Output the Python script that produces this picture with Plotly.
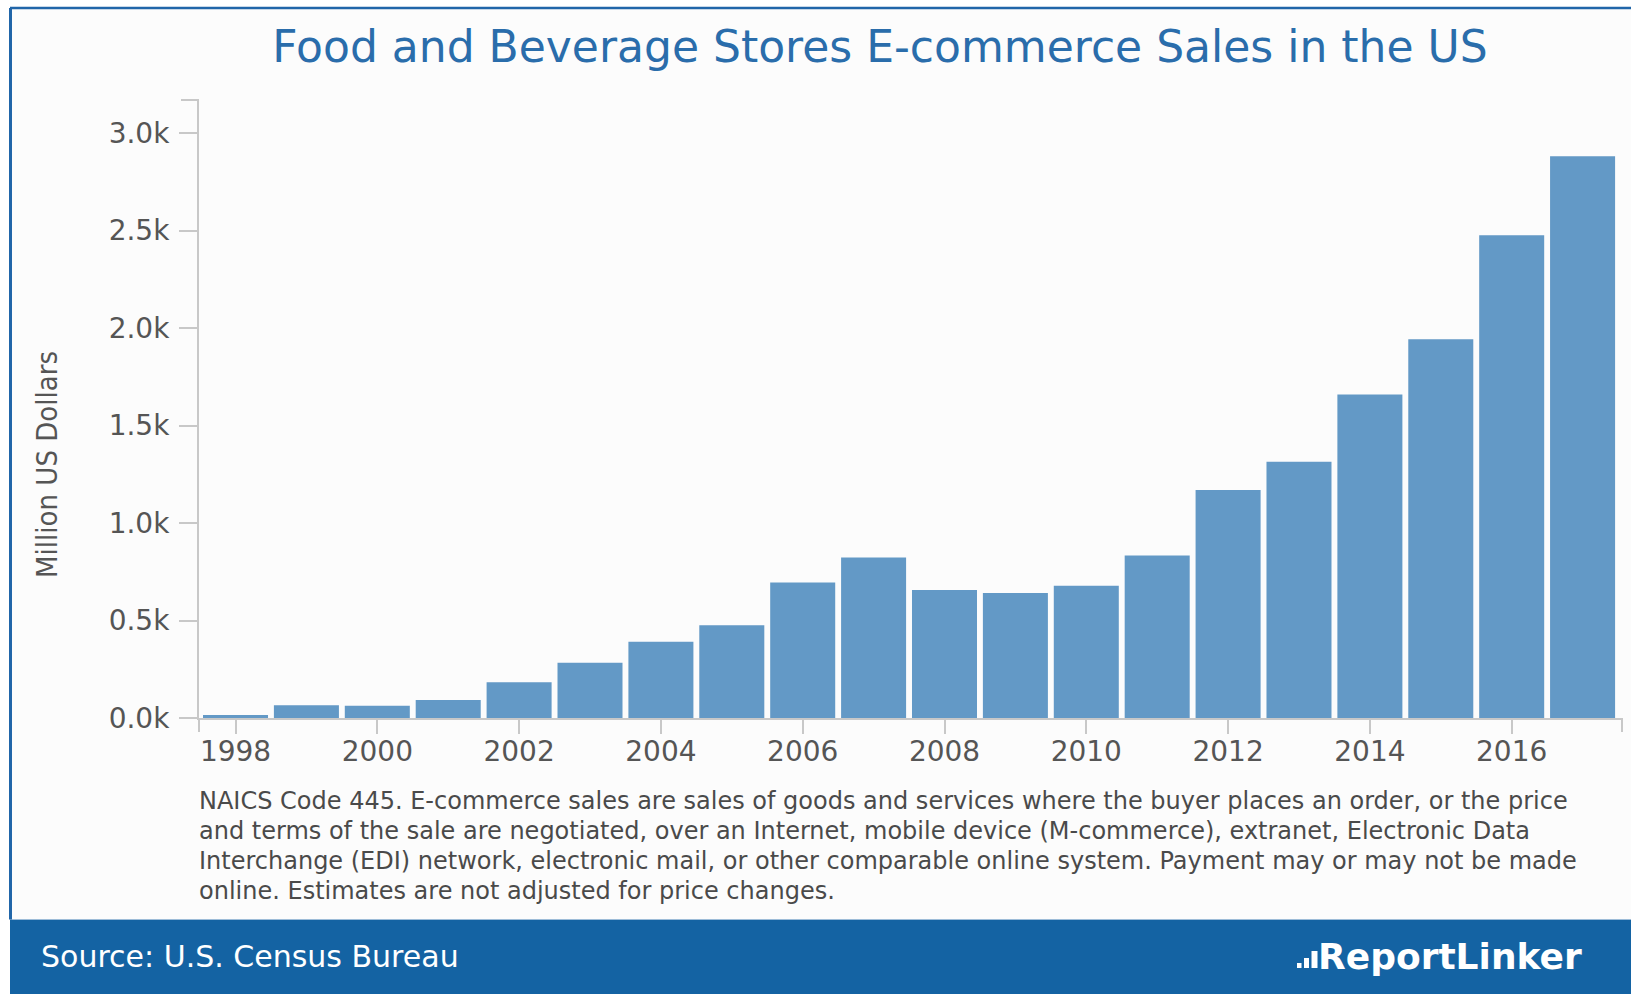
import plotly.graph_objects as go

# Food & beverage stores e-commerce sales, million US dollars
years = list(range(1998, 2018))
sales = [15, 65, 63, 92, 183, 284, 391, 476, 695, 823,
         657, 641, 679, 833, 1170, 1314, 1660, 1943, 2476, 2882]

y_tick_values = [0, 500, 1000, 1500, 2000, 2500, 3000]
y_tick_labels = ["0.0k", "0.5k", "1.0k", "1.5k", "2.0k", "2.5k", "3.0k"]
x_tick_values = [1998, 2000, 2002, 2004, 2006, 2008, 2010, 2012, 2014, 2016]

title_text = "Food and Beverage Stores E-commerce Sales in the US"
y_title = "Million US Dollars"
note_lines = [
    "NAICS Code 445. E-commerce sales are sales of goods and services where the buyer places an order, or the price",
    "and terms of the sale are negotiated, over an Internet, mobile device (M-commerce), extranet, Electronic Data",
    "Interchange (EDI) network, electronic mail, or other comparable online system. Payment may or may not be made",
    "online. Estimates are not adjusted for price changes.",
]
source_text = "Source: U.S. Census Bureau"
brand_text = "ReportLinker"

# Page geometry (pixels)
W, H = 1631, 994
L, R, T, B = 199, 9, 100, 276
PW, PH = W - L - R, H - T - B

BLUE = "#1463a3"
BAR = "#6399c6"
AXIS = "#c8c8c8"
TICK_TXT = "#555555"
FONT = "DejaVu Sans"


def px(x):
    return (x - L) / PW


def py(y):
    return (H - B - y) / PH


fig = go.Figure(
    go.Bar(
        x=years,
        y=sales,
        marker=dict(color=BAR, line=dict(width=0)),
        hovertemplate="%{x}: %{y}<extra></extra>",
    )
)

shapes = [
    # panel background
    dict(type="rect", xref="paper", yref="paper", x0=px(10), x1=px(W), y0=py(919), y1=py(8),
         fillcolor="#fcfcfc", line=dict(width=0), layer="below"),
    # footer band
    dict(type="rect", xref="paper", yref="paper", x0=px(10), x1=px(W), y0=py(H), y1=py(919.5),
         fillcolor=BLUE, line=dict(width=0), layer="below"),
    dict(type="line", xref="paper", yref="paper", x0=px(10), x1=px(W), y0=py(919.5), y1=py(919.5),
         line=dict(color="#9dbcd8", width=1), layer="below"),
    # panel border (top, left)
    dict(type="line", xref="paper", yref="paper", x0=px(10), x1=px(W), y0=py(8), y1=py(8),
         line=dict(color="#2166a9", width=2.5)),
    dict(type="line", xref="paper", yref="paper", x0=px(10.5), x1=px(10.5), y0=py(8), y1=py(919.5),
         line=dict(color="#2166a9", width=3)),
    # outer axis ticks
    dict(type="line", xref="paper", yref="paper", x0=px(L - 18), x1=0, y0=1, y1=1,
         line=dict(color=AXIS, width=2)),
    dict(type="line", xref="paper", yref="paper", x0=0, x1=0, y0=0, y1=py(H - B + 14),
         line=dict(color=AXIS, width=2)),
    dict(type="line", xref="paper", yref="paper", x0=1, x1=1, y0=0, y1=py(H - B + 14),
         line=dict(color=AXIS, width=2)),
]

# small bar mark in front of the brand name
for x0, x1, top in [(1297, 1301.5, 963), (1304, 1309, 958), (1311.5, 1317.5, 951)]:
    shapes.append(dict(type="rect", xref="paper", yref="paper", x0=px(x0), x1=px(x1),
                       y0=py(968), y1=py(top), fillcolor="white", line=dict(width=0)))

annotations = [
    dict(text=y_title, xref="paper", yref="paper", x=px(47), y=py(465), textangle=-90,
         xanchor="center", yanchor="middle", showarrow=False,
         font=dict(family="Liberation Sans Narrow, DejaVu Sans Condensed, Liberation Sans", size=29,
                   color="#555555")),
    dict(text=source_text, xref="paper", yref="paper", x=px(39), y=py(957),
         xanchor="left", yanchor="middle", showarrow=False,
         font=dict(family=FONT, size=30, color="white")),
    dict(text=brand_text, xref="paper", yref="paper", x=px(1584), y=py(957),
         xanchor="right", yanchor="middle", showarrow=False,
         font=dict(family=FONT, size=36, color="white", weight="bold")),
]

for i, line in enumerate(note_lines):
    annotations.append(dict(text=line, xref="paper", yref="paper", x=px(197), y=py(801 + 30 * i),
                            xanchor="left", yanchor="middle", showarrow=False, align="left",
                            font=dict(family=FONT, size=24, color="#4a4a4a")))

fig.update_layout(
    width=W,
    height=H,
    margin=dict(l=L, r=R, t=T, b=B, pad=0),
    paper_bgcolor="white",
    plot_bgcolor="rgba(0,0,0,0)",
    bargap=0.083,
    showlegend=False,
    title=dict(text=title_text, x=880 / W, xanchor="center", y=1 - 47 / H, yanchor="middle",
               xref="container", yref="container",
               font=dict(family=FONT, size=44, color="#2a6dab")),
    xaxis=dict(range=[1997.485, 2017.556], tickvals=x_tick_values, ticks="outside", ticklen=14,
               tickwidth=2, tickcolor=AXIS, showline=True, linecolor=AXIS, linewidth=2,
               showgrid=False, zeroline=False, ticklabelstandoff=-7,
               tickfont=dict(family=FONT, size=28, color=TICK_TXT)),
    yaxis=dict(range=[0, 3170], tickvals=y_tick_values, ticktext=y_tick_labels, ticks="outside",
               ticklen=18, tickwidth=2, tickcolor=AXIS, showline=True, linecolor=AXIS, linewidth=2,
               showgrid=False, zeroline=False, ticklabelstandoff=4,
               tickfont=dict(family=FONT, size=28, color=TICK_TXT)),
    shapes=shapes,
    annotations=annotations,
)

fig.write_html("out.html")
